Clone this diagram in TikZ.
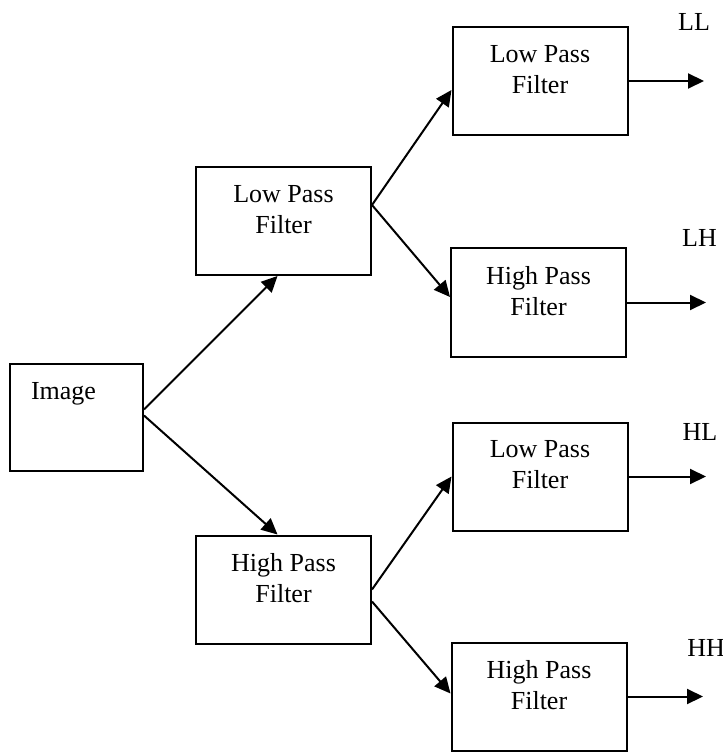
\documentclass[tikz,border=0pt]{standalone}
\usepackage{fontspec}
\setmainfont{Liberation Serif}
\usetikzlibrary{arrows.meta}
\begin{document}
\begin{tikzpicture}[x=0.5pt,y=-0.5pt,font=\fontsize{13}{15.5}\selectfont,
  filter/.style={draw, line width=1pt, align=center, minimum width=87.5pt, minimum height=54pt, text depth=12pt},
  arr/.style={line width=1pt, -{Triangle[length=8pt,width=7.5pt]}}]
\useasboundingbox (0,0) rectangle (722,753);
\node[draw, line width=1pt, align=left, text width=45.5pt, inner xsep=10.5pt, minimum height=53.5pt, text depth=27pt] (img) at (76.5,417.5) {Image};
\node[filter] (lpf) at (283.5,221) {Low Pass\\ Filter};
\node[filter] (hpf) at (283.5,589.5) {High Pass\\ Filter};
\node[filter] (ll) at (540,81) {Low Pass\\ Filter};
\node[filter] (lh) at (538.5,302.5) {High Pass\\ Filter};
\node[filter] (hl) at (540,476.5) {Low Pass\\ Filter};
\node[filter] (hh) at (539,696.5) {High Pass\\ Filter};
\node (outll) at (694,22) {LL};
\node (outlh) at (699.5,238) {LH};
\node (outhl) at (700,432) {HL};
\node[anchor=west, inner sep=0pt] (outhh) at (687,648) {HH};
\coordinate (endll) at (704,81);
\coordinate (endlh) at (706,302.5);
\coordinate (endhl) at (706,476.5);
\coordinate (endhh) at (703,696.5);
\draw[arr] ([yshift=4pt]img.east) -- ([xshift=-3pt]lpf.south);
\draw[arr] ([yshift=1pt]img.east) -- ([xshift=-3pt]hpf.north);
\draw[arr] ([yshift=8pt]lpf.east) -- ([yshift=-4.5pt]ll.west);
\draw[arr] ([yshift=8pt]lpf.east) -- ([yshift=2.75pt]lh.west);
\draw[arr] (hpf.east) -- (hl.west);
\draw[arr] ([yshift=-6pt]hpf.east) -- ([yshift=1.5pt]hh.west);
\foreach \b in {ll,lh,hl,hh}
  \draw[arr] (\b.east) -- (end\b);
\end{tikzpicture}
\end{document}
